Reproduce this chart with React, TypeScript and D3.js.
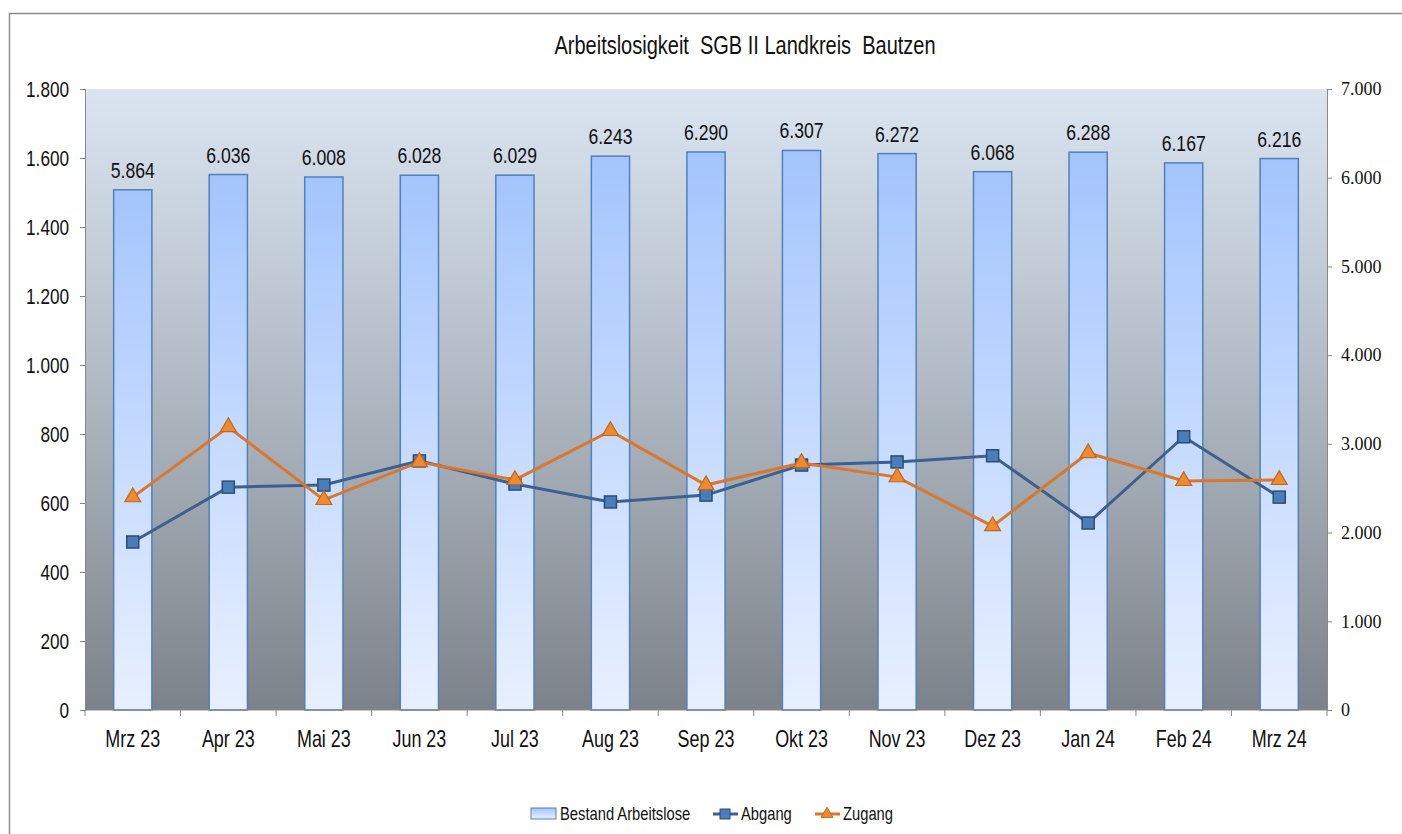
import React, { useEffect, useRef } from 'react';
import * as d3 from 'd3';

const months = ['Mrz 23', 'Apr 23', 'Mai 23', 'Jun 23', 'Jul 23', 'Aug 23', 'Sep 23', 'Okt 23', 'Nov 23', 'Dez 23', 'Jan 24', 'Feb 24', 'Mrz 24'];
const bestand = [5864, 6036, 6008, 6028, 6029, 6243, 6290, 6307, 6272, 6068, 6288, 6167, 6216];
const abgang = [487, 646, 652, 722, 655, 603, 623, 710, 719, 737, 542, 792, 617];
const zugang = [617, 820, 609, 719, 667, 809, 652, 716, 675, 533, 745, 664, 667];
const leftTicks = [0, 200, 400, 600, 800, 1000, 1200, 1400, 1600, 1800];
const rightTicks = [0, 1000, 2000, 3000, 4000, 5000, 6000, 7000];

const fmt = (v: number) => d3.format(',')(v).replace(/,/g, '.');

const sans = '"Liberation Sans", Arial, sans-serif';
const serif = '"Liberation Serif", "Times New Roman", serif';

// condensed text: the original uses a narrow face, so squeeze Liberation Sans horizontally
function narrowText(parent: any, x: number, y: number, txt: string, size: number, sx: number, anchor = 'middle') {
  return parent.append('text')
    .attr('transform', `translate(${x},${y}) scale(${sx},1)`)
    .attr('text-anchor', anchor)
    .attr('font-family', sans)
    .attr('font-size', size)
    .attr('fill', '#111')
    .style('white-space', 'pre')
    .text(txt);
}

const App = () => {
  const ref = useRef<SVGSVGElement>(null);

  useEffect(() => {
    const svg = d3.select(ref.current);
    svg.selectAll('*').remove();

    const W = 1402, H = 834;
    const margin = { top: 89, right: 75, bottom: 124, left: 85 };
    const w = W - margin.left - margin.right;
    const h = H - margin.top - margin.bottom;

    const defs = svg.append('defs');
    const bg = defs.append('linearGradient').attr('id', 'bg').attr('x1', 0).attr('y1', 0).attr('x2', 0).attr('y2', 1);
    bg.append('stop').attr('offset', '0%').attr('stop-color', '#dbe5f1');
    bg.append('stop').attr('offset', '45%').attr('stop-color', '#b3bcc6');
    bg.append('stop').attr('offset', '100%').attr('stop-color', '#7c8289');
    const bar = defs.append('linearGradient').attr('id', 'bar').attr('x1', 0).attr('y1', 0).attr('x2', 0).attr('y2', 1);
    bar.append('stop').attr('offset', '0%').attr('stop-color', '#a3c5fd');
    bar.append('stop').attr('offset', '100%').attr('stop-color', '#e8f0ff');

    // outer frame
    svg.append('rect').attr('x', 9.5).attr('y', 13.5).attr('width', 1400).attr('height', 830)
      .attr('fill', '#fff').attr('stroke', '#8c8c8c').attr('stroke-width', 1.5);

    narrowText(svg, 745, 54, 'Arbeitslosigkeit  SGB II Landkreis  Bautzen', 25, 0.8);

    const g = svg.append('g').attr('transform', `translate(${margin.left},${margin.top})`);

    const x = d3.scaleBand().domain(months).range([0, w]);
    const yL = d3.scaleLinear().domain([0, 1800]).range([h, 0]);
    const yR = d3.scaleLinear().domain([0, 7000]).range([h, 0]);

    g.append('rect').attr('width', w).attr('height', h).attr('fill', 'url(#bg)');

    const bw = x.bandwidth() * 0.4;
    g.selectAll('.bar').data(months).enter().append('rect')
      .attr('x', d => x(d)! + (x.bandwidth() - bw) / 2)
      .attr('y', (_, i) => yR(bestand[i]))
      .attr('width', bw)
      .attr('height', (_, i) => h - yR(bestand[i]))
      .attr('fill', 'url(#bar)').attr('stroke', '#4f81bd').attr('stroke-width', 1.5);

    months.forEach((m, i) => {
      narrowText(g, x(m)! + x.bandwidth() / 2, yR(bestand[i]) - 12, fmt(bestand[i]), 22, 0.8);
    });

    // axes
    const axL = g.append('g').call(d3.axisLeft(yL).tickValues(leftTicks).tickSize(5).tickFormat(d => fmt(+d)));
    axL.select('.domain').attr('stroke', '#888');
    axL.selectAll('line').attr('stroke', '#888');
    axL.selectAll('text').attr('font-family', sans).attr('font-size', 22).attr('fill', '#111')
      .attr('transform', 'scale(0.78,1)').attr('x', -16 / 0.78);

    const axR = g.append('g').attr('transform', `translate(${w},0)`)
      .call(d3.axisRight(yR).tickValues(rightTicks).tickSize(5).tickFormat(d => fmt(+d)));
    axR.select('.domain').attr('stroke', '#888');
    axR.selectAll('line').attr('stroke', '#888');
    axR.selectAll('text').attr('font-family', serif).attr('font-size', 18).attr('fill', '#111').attr('x', 14);

    const axB = g.append('g').attr('transform', `translate(0,${h})`);
    axB.append('line').attr('x1', 0).attr('x2', w).attr('stroke', '#888');
    axB.selectAll('.tk').data(d3.range(months.length + 1)).enter().append('line')
      .attr('x1', i => i * x.step()).attr('x2', i => i * x.step())
      .attr('y1', 0).attr('y2', 6).attr('stroke', '#888');
    months.forEach(m => {
      narrowText(axB, x(m)! + x.bandwidth() / 2, 37, m, 23, 0.78);
    });

    const cx = (i: number) => x(months[i])! + x.bandwidth() / 2;
    const line = d3.line<number>().x((_, i) => cx(i)).y(d => yL(d));

    g.append('path').datum(abgang).attr('d', line).attr('fill', 'none').attr('stroke', '#3c6091').attr('stroke-width', 3);
    g.selectAll('.sq').data(abgang).enter().append('rect')
      .attr('x', (_, i) => cx(i) - 6).attr('y', d => yL(d) - 6).attr('width', 12).attr('height', 12)
      .attr('fill', '#4a7ebb').attr('stroke', '#2c4d75').attr('stroke-width', 1.5);

    g.append('path').datum(zugang).attr('d', line).attr('fill', 'none').attr('stroke', '#d9772d').attr('stroke-width', 3);
    const tri = d3.symbol().type(d3.symbolTriangle).size(110);
    g.selectAll('.tri').data(zugang).enter().append('path')
      .attr('d', tri).attr('transform', (d, i) => `translate(${cx(i)},${yL(d)})`)
      .attr('fill', '#f08a2c').attr('stroke', '#c0661f').attr('stroke-width', 1.2);

    // legend
    const lg = svg.append('g').attr('transform', 'translate(0,814)');
    lg.append('rect').attr('x', 531).attr('y', -6).attr('width', 25).attr('height', 11)
      .attr('fill', 'url(#bar)').attr('stroke', '#4f81bd');
    narrowText(lg, 560, 6, 'Bestand Arbeitslose', 18, 0.82, 'start');
    lg.append('line').attr('x1', 713).attr('x2', 738).attr('stroke', '#3c6091').attr('stroke-width', 3);
    lg.append('rect').attr('x', 720).attr('y', -5).attr('width', 10).attr('height', 10).attr('fill', '#4a7ebb').attr('stroke', '#2c4d75');
    narrowText(lg, 741, 6, 'Abgang', 18, 0.82, 'start');
    lg.append('line').attr('x1', 815).attr('x2', 840).attr('stroke', '#d9772d').attr('stroke-width', 3);
    lg.append('path').attr('d', d3.symbol().type(d3.symbolTriangle).size(60)).attr('transform', 'translate(827,0)')
      .attr('fill', '#f08a2c').attr('stroke', '#c0661f');
    narrowText(lg, 843, 6, 'Zugang', 18, 0.82, 'start');
  }, []);

  return (
    <svg ref={ref} width={1402} height={834} style={{ display: 'block', position: 'absolute', left: 0, top: 0 }} />
  );
};

export default App;
